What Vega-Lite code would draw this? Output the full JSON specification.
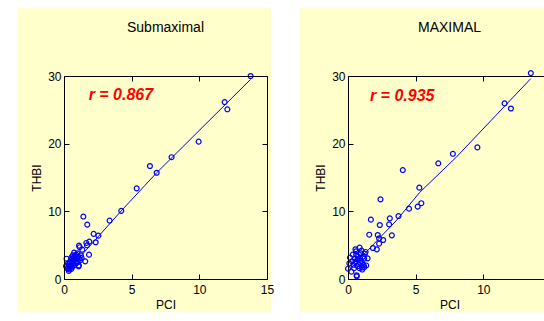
{
  "$schema": "https://vega.github.io/schema/vega-lite/v6.json",
  "autosize": {"type": "pad"},
  "padding": {"left": 17, "top": 8, "right": 0, "bottom": 0},
  "background": "white",
  "datasets": {
    "sub": [
      {"PCI": 13.79, "THBI": 30.0}, {"PCI": 11.87, "THBI": 26.15}, {"PCI": 12.07, "THBI": 25.08}, {"PCI": 9.95, "THBI": 20.3},
      {"PCI": 7.95, "THBI": 18.0}, {"PCI": 6.35, "THBI": 16.7}, {"PCI": 6.85, "THBI": 15.7}, {"PCI": 5.37, "THBI": 13.4},
      {"PCI": 4.23, "THBI": 10.07}, {"PCI": 3.37, "THBI": 8.64}, {"PCI": 1.43, "THBI": 9.23}, {"PCI": 1.72, "THBI": 8.04},
      {"PCI": 2.54, "THBI": 6.41}, {"PCI": 2.19, "THBI": 6.67}, {"PCI": 2.34, "THBI": 5.43}, {"PCI": 1.87, "THBI": 5.53},
      {"PCI": 1.65, "THBI": 5.33}, {"PCI": 1.7, "THBI": 4.98}, {"PCI": 1.11, "THBI": 4.93}, {"PCI": 1.16, "THBI": 4.7},
      {"PCI": 1.35, "THBI": 4.34}, {"PCI": 1.85, "THBI": 3.6}, {"PCI": 1.57, "THBI": 2.61}, {"PCI": 0.19, "THBI": 3.0},
      {"PCI": 1.08, "THBI": 1.87}, {"PCI": 1.3, "THBI": 3.1},
      {"PCI": 0.15, "THBI": 1.9}, {"PCI": 0.3, "THBI": 1.5}, {"PCI": 0.35, "THBI": 1.2}, {"PCI": 0.4, "THBI": 1.4},
      {"PCI": 0.45, "THBI": 1.7}, {"PCI": 0.5, "THBI": 2.0}, {"PCI": 0.4, "THBI": 2.3}, {"PCI": 0.55, "THBI": 1.5},
      {"PCI": 0.6, "THBI": 2.4}, {"PCI": 0.6, "THBI": 1.8}, {"PCI": 0.65, "THBI": 2.7}, {"PCI": 0.7, "THBI": 2.2},
      {"PCI": 0.7, "THBI": 3.1}, {"PCI": 0.75, "THBI": 2.0}, {"PCI": 0.8, "THBI": 2.6}, {"PCI": 0.8, "THBI": 3.4},
      {"PCI": 0.85, "THBI": 2.9}, {"PCI": 0.9, "THBI": 3.6}, {"PCI": 0.9, "THBI": 2.3}, {"PCI": 0.95, "THBI": 3.1},
      {"PCI": 1.0, "THBI": 3.8}, {"PCI": 1.0, "THBI": 2.6}, {"PCI": 1.05, "THBI": 3.3}, {"PCI": 1.1, "THBI": 2.0},
      {"PCI": 1.1, "THBI": 3.0}, {"PCI": 1.2, "THBI": 2.8}, {"PCI": 1.25, "THBI": 3.5},
      {"PCI": 0.5, "THBI": 2.8}, {"PCI": 0.55, "THBI": 3.2}, {"PCI": 0.65, "THBI": 3.5}, {"PCI": 0.75, "THBI": 3.9},
      {"PCI": 0.35, "THBI": 2.0}, {"PCI": 0.45, "THBI": 2.5}, {"PCI": 0.25, "THBI": 1.6}, {"PCI": 0.3, "THBI": 2.3}
    ],
    "max": [
      {"PCI": 13.51, "THBI": 30.43}, {"PCI": 11.57, "THBI": 25.95}, {"PCI": 12.04, "THBI": 25.2}, {"PCI": 9.56, "THBI": 19.45},
      {"PCI": 7.75, "THBI": 18.5}, {"PCI": 6.67, "THBI": 17.1}, {"PCI": 4.05, "THBI": 16.1}, {"PCI": 5.27, "THBI": 13.5},
      {"PCI": 5.42, "THBI": 11.2}, {"PCI": 5.15, "THBI": 10.7}, {"PCI": 4.51, "THBI": 10.4}, {"PCI": 3.73, "THBI": 9.3},
      {"PCI": 2.4, "THBI": 11.77}, {"PCI": 3.09, "THBI": 8.97}, {"PCI": 3.04, "THBI": 8.07}, {"PCI": 2.35, "THBI": 7.98},
      {"PCI": 1.69, "THBI": 8.77}, {"PCI": 1.57, "THBI": 6.55}, {"PCI": 3.24, "THBI": 6.45}, {"PCI": 2.2, "THBI": 6.5},
      {"PCI": 2.3, "THBI": 6.0}, {"PCI": 2.6, "THBI": 5.76}, {"PCI": 2.3, "THBI": 5.22}, {"PCI": 2.13, "THBI": 4.38},
      {"PCI": 1.84, "THBI": 4.58},
      {"PCI": 0.0, "THBI": 1.52}, {"PCI": 0.64, "THBI": 0.55}, {"PCI": 0.65, "THBI": 0.4}, {"PCI": 0.86, "THBI": 4.63},
      {"PCI": 0.55, "THBI": 4.4}, {"PCI": 0.15, "THBI": 3.15}, {"PCI": 0.25, "THBI": 1.08}, {"PCI": 1.2, "THBI": 1.77},
      {"PCI": 1.05, "THBI": 1.7}, {"PCI": 1.45, "THBI": 3.05}, {"PCI": 1.25, "THBI": 3.74}, {"PCI": 0.1, "THBI": 2.3},
      {"PCI": 0.3, "THBI": 2.6}, {"PCI": 0.4, "THBI": 2.1}, {"PCI": 0.5, "THBI": 3.0}, {"PCI": 0.55, "THBI": 2.5},
      {"PCI": 0.6, "THBI": 3.6}, {"PCI": 0.7, "THBI": 2.9}, {"PCI": 0.75, "THBI": 3.3}, {"PCI": 0.8, "THBI": 2.2},
      {"PCI": 0.85, "THBI": 1.6}, {"PCI": 0.9, "THBI": 3.0}, {"PCI": 0.95, "THBI": 3.8}, {"PCI": 1.0, "THBI": 2.6},
      {"PCI": 1.0, "THBI": 4.2}, {"PCI": 1.1, "THBI": 3.3}, {"PCI": 1.15, "THBI": 2.1}, {"PCI": 1.3, "THBI": 4.0},
      {"PCI": 1.35, "THBI": 2.0}, {"PCI": 0.45, "THBI": 1.6}, {"PCI": 0.35, "THBI": 3.6}, {"PCI": 0.7, "THBI": 1.9},
      {"PCI": 0.9, "THBI": 2.4}, {"PCI": 1.05, "THBI": 1.4}, {"PCI": 1.2, "THBI": 3.0}, {"PCI": 0.6, "THBI": 4.1}
    ],
    "subfit": [
      {"PCI": 0.3, "THBI": 1.3}, {"PCI": 2.5, "THBI": 6.2}, {"PCI": 4.23, "THBI": 10.07}, {"PCI": 6.85, "THBI": 15.7}, {"PCI": 13.79, "THBI": 29.5}
    ],
    "maxfit": [
      {"PCI": 0.2, "THBI": 2.0}, {"PCI": 1.3, "THBI": 3.9}, {"PCI": 3.6, "THBI": 8.7}, {"PCI": 5.3, "THBI": 12.8}, {"PCI": 8.0, "THBI": 18.0}, {"PCI": 13.5, "THBI": 29.6}
    ],
    "subr": [{"label": "r = 0.867"}],
    "maxr": [{"label": "r = 0.935"}],
    "panel": [{"panel": "bg"}]
  },
  "spacing": 81,
  "bounds": "flush",
  "hconcat": [
    {
      "width": 203,
      "height": 203,
      "title": {"text": "Submaximal"},
      "layer": [
        {
          "data": {"name": "panel"},
          "mark": {"type": "rect", "color": "#FFFFCC"},
          "encoding": {
            "x": {"datum": -3.4, "type": "quantitative", "scale": {"domain": [0, 15], "nice": false}, "axis": null},
            "x2": {"datum": 15.3},
            "y": {"datum": 40.0, "type": "quantitative", "scale": {"domain": [0, 30], "nice": false}, "axis": null},
            "y2": {"datum": -4.9}
          }
        },
        {
          "data": {"name": "subfit"},
          "mark": {"type": "line", "color": "#0000FF", "strokeWidth": 1},
          "encoding": {
            "x": {"field": "PCI", "type": "quantitative", "scale": {"domain": [0, 15], "nice": false}, "axis": {"orient": "bottom", "title": "PCI", "values": [0, 5, 10, 15], "zindex": 2, "labelPadding": 10}},
            "y": {"field": "THBI", "type": "quantitative", "scale": {"domain": [0, 30], "nice": false}, "axis": {"orient": "left", "title": "THBI", "values": [0, 10, 20, 30], "zindex": 2, "labelPadding": 8}}
          }
        },
        {
          "data": {"name": "sub"},
          "mark": {"type": "point", "shape": "circle", "filled": false, "color": "#0000FF", "size": 24, "strokeWidth": 1.2, "opacity": 1},
          "encoding": {
            "x": {"field": "PCI", "type": "quantitative", "scale": {"domain": [0, 15], "nice": false}, "axis": {"orient": "top", "title": null, "labels": false, "values": [0, 5, 10, 15], "zindex": 2}},
            "y": {"field": "THBI", "type": "quantitative", "scale": {"domain": [0, 30], "nice": false}, "axis": {"orient": "right", "title": null, "labels": false, "values": [0, 10, 20, 30], "zindex": 2}}
          }
        },
        {
          "data": {"name": "subr"},
          "mark": {"type": "text", "color": "#FF0000", "font": "Liberation Sans", "fontSize": 16, "fontWeight": "bold", "fontStyle": "italic", "align": "left", "baseline": "middle"},
          "encoding": {
            "x": {"datum": 1.82, "type": "quantitative", "axis": null},
            "y": {"datum": 27.2, "type": "quantitative", "axis": null},
            "text": {"field": "label"}
          }
        }
      ],
      "resolve": {"axis": {"x": "independent", "y": "independent"}}
    },
    {
      "width": 203,
      "height": 203,
      "title": {"text": "MAXIMAL"},
      "layer": [
        {
          "data": {"name": "panel"},
          "mark": {"type": "rect", "color": "#FFFFCC"},
          "encoding": {
            "x": {"datum": -3.6, "type": "quantitative", "scale": {"domain": [0, 15], "nice": false}, "axis": null},
            "x2": {"datum": 16},
            "y": {"datum": 40.0, "type": "quantitative", "scale": {"domain": [0, 30], "nice": false}, "axis": null},
            "y2": {"datum": -4.9}
          }
        },
        {
          "data": {"name": "maxfit"},
          "mark": {"type": "line", "color": "#0000FF", "strokeWidth": 1},
          "encoding": {
            "x": {"field": "PCI", "type": "quantitative", "scale": {"domain": [0, 15], "nice": false}, "axis": {"orient": "bottom", "title": "PCI", "values": [0, 5, 10], "zindex": 2, "labelPadding": 10}},
            "y": {"field": "THBI", "type": "quantitative", "scale": {"domain": [0, 30], "nice": false}, "axis": {"orient": "left", "title": "THBI", "values": [0, 10, 20, 30], "zindex": 2, "labelPadding": 8}}
          }
        },
        {
          "data": {"name": "max"},
          "mark": {"type": "point", "shape": "circle", "filled": false, "color": "#0000FF", "size": 24, "strokeWidth": 1.2, "opacity": 1},
          "encoding": {
            "x": {"field": "PCI", "type": "quantitative", "scale": {"domain": [0, 15], "nice": false}, "axis": {"orient": "top", "title": null, "labels": false, "values": [0, 5, 10], "zindex": 2}},
            "y": {"field": "THBI", "type": "quantitative", "scale": {"domain": [0, 30], "nice": false}, "axis": {"orient": "right", "title": null, "labels": false, "values": [0, 10, 20, 30], "zindex": 2}}
          }
        },
        {
          "data": {"name": "maxr"},
          "mark": {"type": "text", "color": "#FF0000", "font": "Liberation Sans", "fontSize": 16, "fontWeight": "bold", "fontStyle": "italic", "align": "left", "baseline": "middle"},
          "encoding": {
            "x": {"datum": 1.62, "type": "quantitative", "axis": null},
            "y": {"datum": 27.0, "type": "quantitative", "axis": null},
            "text": {"field": "label"}
          }
        }
      ],
      "resolve": {"axis": {"x": "independent", "y": "independent"}}
    }
  ],
  "config": {
    "view": {"stroke": null},
    "font": "Liberation Sans",
    "title": {"font": "Liberation Sans", "fontSize": 14, "fontWeight": "normal", "color": "#000000", "anchor": "middle", "frame": "group", "baseline": "alphabetic", "offset": -27},
    "axis": {
      "grid": false,
      "domainColor": "#000000",
      "domainWidth": 1,
      "tickColor": "#000000",
      "tickSize": -5,
      "tickWidth": 1,
      "labelFont": "Liberation Sans",
      "labelFontSize": 12,
      "labelColor": "#000000",
      "labelPadding": 3,
      "labelFlush": false,
      "labelOverlap": false,
      "titleFont": "Liberation Sans",
      "titleFontSize": 12,
      "titleFontWeight": "normal",
      "titleColor": "#000000",
      "titlePadding": 4
    }
  }
}
